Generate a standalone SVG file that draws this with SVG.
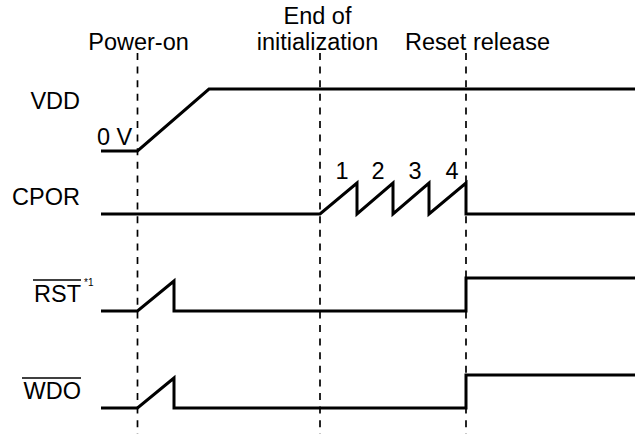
<svg xmlns="http://www.w3.org/2000/svg" width="635" height="434" viewBox="0 0 635 434">
  <style>
    text { font-family: "Liberation Sans", Arial, sans-serif; font-size: 23.5px; fill: #000; }
    .lbl { text-anchor: end; }
    .mid { text-anchor: middle; }
    .sig { fill: none; stroke: #000; stroke-width: 3; stroke-linejoin: miter; }
    .dash { fill: none; stroke: #000; stroke-width: 1.7; stroke-dasharray: 7 6.6; }
    .ovl { stroke: #000; stroke-width: 1.6; }
    .sup { font-size: 10px; }
  </style>
  <rect width="635" height="434" fill="#fff"/>

  <g id="connectors">
    <line class="dash" x1="137.5" y1="53" x2="137.5" y2="434"/>
    <line class="dash" x1="320" y1="53" x2="320" y2="434"/>
    <line class="dash" x1="466" y1="53" x2="466" y2="434"/>
  </g>

  <g id="event-labels">
    <text class="mid" x="138.5" y="49.5">Power-on</text>
    <text class="mid" x="317.5" y="23.5">End of</text>
    <text class="mid" x="317.5" y="49.5">initialization</text>
    <text x="405" y="49.5">Reset release</text>
  </g>

  <g id="vdd">
    <text class="lbl" x="80" y="109">VDD</text>
    <text x="97" y="145">0 V</text>
    <polyline class="sig" points="101,151 137.5,151 209,89 635,89"/>
  </g>

  <g id="cpor">
    <text class="lbl" x="80" y="205">CPOR</text>
    <text class="mid" x="342" y="179">1</text>
    <text class="mid" x="378" y="179">2</text>
    <text class="mid" x="415" y="179">3</text>
    <text class="mid" x="452" y="179">4</text>
    <polyline class="sig" points="101,214 320,214 357,183 357,214 393,183 393,214 429,183 429,214 466,183 466,214 635,214"/>
  </g>

  <g id="rst">
    <text class="lbl" x="81" y="302">RST</text>
    <line class="ovl" x1="33" y1="280" x2="81" y2="280"/>
    <text class="sup" x="84" y="286">*1</text>
    <polyline class="sig" points="101,311 137.5,311 174,281 174,311 466,311 466,278 635,278"/>
  </g>

  <g id="wdo">
    <text class="lbl" x="81" y="399">WDO</text>
    <line class="ovl" x1="22" y1="378" x2="81" y2="378"/>
    <polyline class="sig" points="101,408 137.5,408 174,378 174,408 466,408 466,375 635,375"/>
  </g>
</svg>
